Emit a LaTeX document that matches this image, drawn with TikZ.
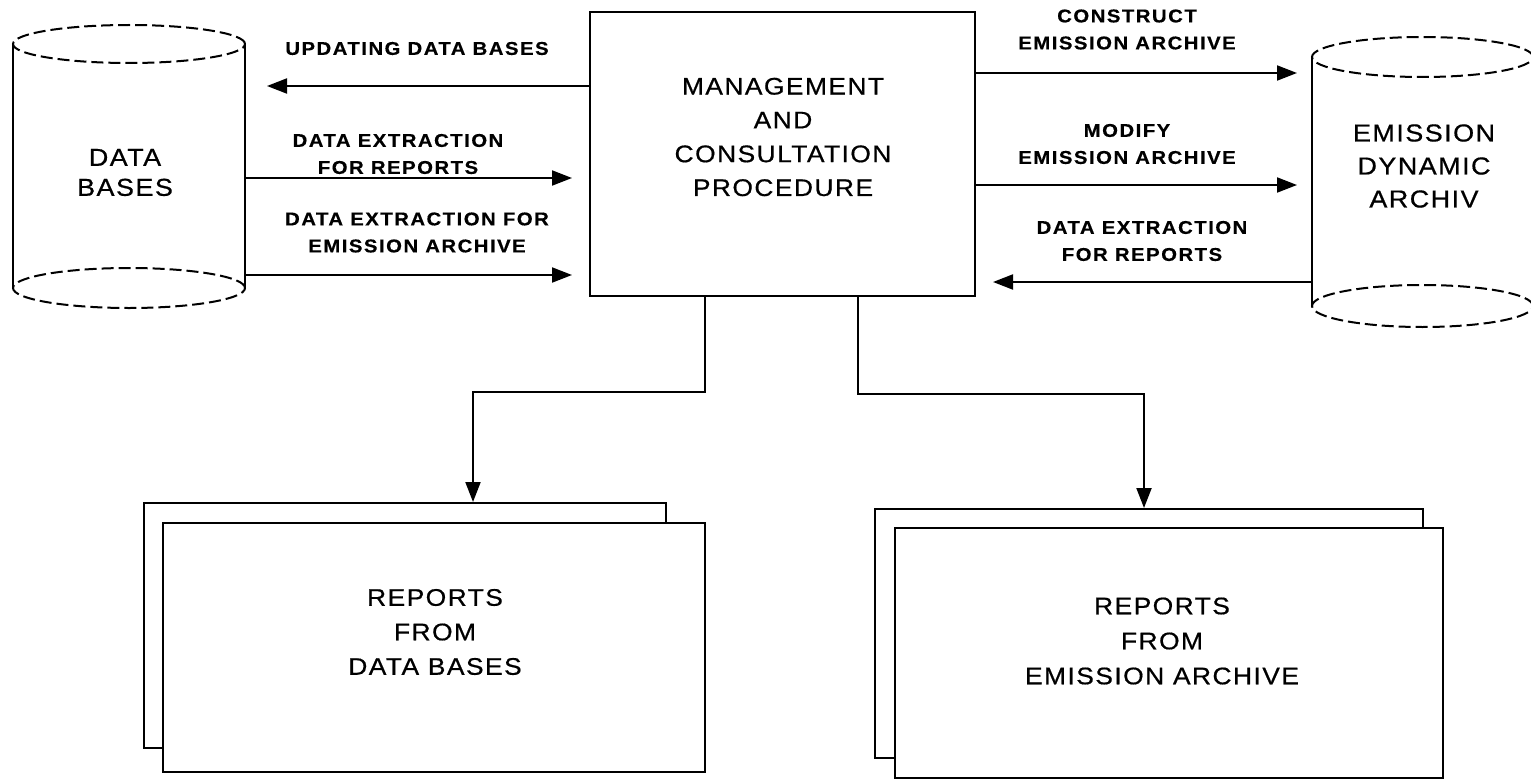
\documentclass[tikz,border=0pt]{standalone}
\usepackage{fontspec}
\setmainfont{Liberation Sans}
\newfontfamily\bigfont{Liberation Sans}[FakeStretch=1.1,LetterSpace=6,FakeBold=0.6]
\newfontfamily\labfont{Liberation Sans}[FakeStretch=1.1,LetterSpace=8,FakeBold=0.4]
\usetikzlibrary{arrows.meta}
\tikzset{
  arr/.style={-{Triangle[length=20pt,width=15pt]}},
  lbl/.style={font=\labfont\bfseries\fontsize{18.5pt}{27pt}\selectfont, align=center, inner sep=0pt},
  bigtxt/.style={font=\bigfont\fontsize{24pt}{33.8pt}\selectfont, align=center, inner sep=0pt},
  cyltxt/.style={font=\bigfont\fontsize{24.5pt}{30pt}\selectfont, align=center, inner sep=0pt},
  reptxt/.style={font=\bigfont\fontsize{24pt}{34.5pt}\selectfont, align=center, inner sep=0pt},
  cyldash/.style={dash pattern=on 12pt off 5pt},
  boxstyle/.style={draw, fill=white, inner sep=0pt},
}
\begin{document}
\begin{tikzpicture}[x=1pt,y=-1pt,line width=2pt]
\useasboundingbox (0,0) rectangle (1531,784);
% ---- Data bases cylinder
\coordinate (dbW) at (13,166);
\coordinate (dbE) at (245,166);
\draw (dbW |- 0,44) -- (dbW |- 0,288);
\draw (dbE |- 0,44) -- (dbE |- 0,288);
\draw[cyldash] (129,44) ellipse [x radius=116pt, y radius=19pt];
\draw[cyldash] (129,288) ellipse [x radius=116pt, y radius=20pt];
\node[cyltxt] (dbtxt) at (125,172.5) {DATA\\BASES};
% ---- Emission cylinder
\coordinate (emW) at (1312,180);
\coordinate (emE) at (1533,180);
\draw (emW |- 0,57) -- (emW |- 0,306);
\draw (emE |- 0,57) -- (emE |- 0,306);
\draw[cyldash] (1422.5,57) ellipse [x radius=110.5pt, y radius=20pt];
\draw[cyldash] (1422.5,306) ellipse [x radius=110.5pt, y radius=21pt];
\node[cyltxt,font=\bigfont\fontsize{24.5pt}{33pt}\selectfont] (emtxt) at (1424,166) {EMISSION\\DYNAMIC\\ARCHIV};
% ---- Main box
\node[boxstyle, minimum width=385pt, minimum height=284pt] (mgmt) at (782.5,154) {};
\node[bigtxt] (mgmttxt) at (783,137) {MANAGEMENT\\AND\\CONSULTATION\\PROCEDURE};
% ---- Report boxes
\node[boxstyle, minimum width=522pt, minimum height=245pt] (rb1) at (405,625.5) {};
\node[boxstyle, minimum width=542pt, minimum height=249pt] (rf1) at (434,647.5) {};
\node[reptxt] (r1txt) at (435,632) {REPORTS\\FROM\\DATA BASES};
\node[boxstyle, minimum width=548pt, minimum height=249pt] (rb2) at (1149,633.5) {};
\node[boxstyle, minimum width=548pt, minimum height=250pt] (rf2) at (1169,653) {};
\node[reptxt,font=\bigfont\fontsize{24pt}{35pt}\selectfont] (r2txt) at (1162,641) {REPORTS\\FROM\\EMISSION ARCHIVE};
% ---- Left arrows
\draw[arr, shorten >=22pt] (mgmt.west |- 0,86) -- (dbE |- 0,86);
\node[lbl] (l1) at (417,48.5) {UPDATING DATA BASES};
\draw[arr, shorten >=17pt] (dbE |- 0,178) -- (mgmt.west |- 0,178);
\node[lbl] (l2) at (398,154) {DATA EXTRACTION\\FOR REPORTS};
\draw[arr, shorten >=17pt] (dbE |- 0,275) -- (mgmt.west |- 0,275);
\node[lbl] (l3) at (417,232.5) {DATA EXTRACTION FOR\\EMISSION ARCHIVE};
% ---- Right arrows
\draw[arr, shorten >=15pt] (mgmt.east |- 0,73) -- (emW |- 0,73);
\node[lbl] (r1) at (1127,29.5) {CONSTRUCT\\EMISSION ARCHIVE};
\draw[arr, shorten >=15pt] (mgmt.east |- 0,185) -- (emW |- 0,185);
\node[lbl] (r2) at (1127,144) {MODIFY\\EMISSION ARCHIVE};
\draw[arr, shorten >=17pt] (emW |- 0,282) -- (mgmt.east |- 0,282);
\node[lbl] (r3) at (1142,241) {DATA EXTRACTION\\FOR REPORTS};
% ---- Down connectors
\coordinate (c1) at (705,392);
\coordinate (c2) at (473,392);
\coordinate (c3) at (858,394);
\coordinate (c4) at (1144,394);
\draw[arr] (mgmt.south -| c1) -- (c1) -- (c2) -- (rb1.north -| c2);
\draw[arr] (mgmt.south -| c3) -- (c3) -- (c4) -- (rb2.north -| c4);
\end{tikzpicture}
\end{document}
